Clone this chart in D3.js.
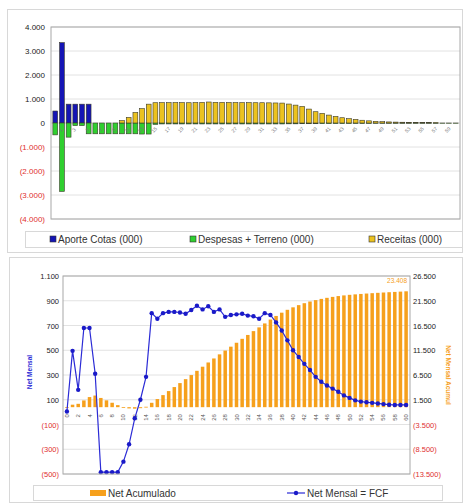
<!DOCTYPE html>
<html lang="pt">
<head>
<meta charset="UTF-8">
<script src="https://d3js.org/d3.v7.min.js"></script>
<style>
  body { margin: 0; background: #fff; }
  svg { font-family: "Liberation Sans", Arial, sans-serif; display: block; }
</style>
</head>
<body>
<script>
// ---- data (000) ----
const periods = [0,1,2,3,4,5,6,7,8,9,10,11,12,13,14,15,16,17,18,19,20,21,22,23,24,25,26,27,28,29,30,
  31,32,33,34,35,36,37,38,39,40,41,42,43,44,45,46,47,48,49,50,51,52,53,54,55,56,57,58,59,60];

const aporteCotas = [500,3350,785,785,785,785,0,0,0,0,0,0,0,0,0,0,0,0,0,0,0,0,0,0,0,0,0,0,0,0,0,
  0,0,0,0,0,0,0,0,0,0,0,0,0,0,0,0,0,0,0,0,0,0,0,0,0,0,0,0,0,0];
const despesasTerreno = [-495,-2850,-590,-110,-110,-450,-450,-450,-450,-450,-450,-450,-450,-460,-460,-60,-40,-40,-40,-40,-40,-40,-40,-40,-40,-40,-40,-40,-40,-40,-40,
  -40,-40,-40,-40,-35,-35,-30,-30,-30,-25,-25,-20,-20,-20,-15,-15,-15,-10,-10,-10,-10,-10,-10,-10,-10,-10,-10,-10,-10,-10];
const receitas = [0,0,0,0,0,0,0,0,0,0,100,235,440,600,785,845,850,850,850,850,845,850,860,875,860,860,855,850,850,850,845,
  845,840,835,830,790,745,690,580,470,400,330,275,220,180,150,115,90,70,55,45,38,32,27,24,20,16,12,0,0,0];

const netMensal = [5,495,180,680,680,310,-485,-485,-485,-485,-400,-260,-50,100,285,800,755,800,810,810,805,795,825,860,830,855,810,830,770,785,790,
  795,780,775,755,800,785,725,660,580,500,445,390,340,285,245,215,190,165,135,115,95,85,80,75,70,65,60,58,58,58];
const netAcumulado = [5,500,680,1360,2040,2350,1865,1380,895,410,10,-250,-300,-200,85,885,1640,2440,3250,4060,4865,5660,6485,7345,8175,9030,9840,10670,11440,12225,13015,
  13810,14590,15365,16120,16920,17705,18430,19090,19670,20170,20615,21005,21345,21630,21875,22090,22280,22445,22580,22695,22790,22875,22955,23030,23100,23165,23225,23285,23345,23408];

const topTicks = [-4000,-3000,-2000,-1000,0,1000,2000,3000,4000];
const leftTicks = [-500,-300,-100,100,300,500,700,900,1100];
const rightTicks = [-13500,-8500,-3500,1500,6500,11500,16500,21500,26500];

const width = 465, height = 504;
const svg = d3.select('body').append('svg').attr('width', width).attr('height', height);

const fmt = v => {
  const s = d3.format(',')(Math.abs(v)).replace(/,/g, '.');
  return v < 0 ? '(' + s + ')' : s;
};

// ================= TOP CHART =================
svg.append('rect').attr('x', 7.5).attr('y', 9.5).attr('width', 455).attr('height', 243)
  .attr('fill', 'none').attr('stroke', '#d8d8d8');

const t = {left: 51, right: 460, top: 27, bottom: 219};
const x1 = d3.scaleBand().domain(periods).range([t.left, t.right]).padding(0.28);
const y1 = d3.scaleLinear().domain([-4000, 4000]).range([t.bottom, t.top]);

svg.append('g').selectAll('line').data(topTicks).join('line')
  .attr('x1', t.left).attr('x2', t.right)
  .attr('y1', d => y1(d)).attr('y2', d => y1(d))
  .attr('stroke', '#e2e2e2');

svg.append('g').selectAll('text').data(topTicks).join('text')
  .attr('x', 45).attr('y', d => y1(d) + 3)
  .attr('text-anchor', 'end').attr('font-size', 8)
  .attr('fill', d => d < 0 ? '#e03030' : '#222')
  .text(fmt);

const rows = periods.map((p, i) => ({p, aporte: aporteCotas[i], despesas: despesasTerreno[i], receitas: receitas[i]}));
const keys = ['aporte', 'despesas', 'receitas'];
const colors = {aporte: '#1515b5', despesas: '#2fcf2f', receitas: '#ebc21f'};
const stacked = d3.stack().keys(keys).offset(d3.stackOffsetDiverging)(rows);

svg.append('g').selectAll('g').data(stacked).join('g')
  .attr('fill', d => colors[d.key])
  .selectAll('rect').data(d => d).join('rect')
  .attr('x', d => x1(d.data.p))
  .attr('width', x1.bandwidth())
  .attr('y', d => y1(Math.max(d[0], d[1])))
  .attr('height', d => Math.abs(y1(d[0]) - y1(d[1])))
  .attr('stroke', '#3a3a2a').attr('stroke-width', 0.6);

// category labels along zero
svg.append('g').selectAll('text').data(periods.filter(p => p % 2 === 1)).join('text')
  .attr('transform', d => `translate(${x1(d) + x1.bandwidth() / 2},${y1(0) + 8}) rotate(-45)`)
  .attr('text-anchor', 'middle').attr('font-size', 5).attr('fill', '#777')
  .text(d => d);

svg.append('rect').attr('x', t.left).attr('y', t.top)
  .attr('width', t.right - t.left).attr('height', t.bottom - t.top)
  .attr('fill', 'none').attr('stroke', '#a8a8a8');

// legend
svg.append('rect').attr('x', 25.5).attr('y', 231.5).attr('width', 437).attr('height', 16)
  .attr('fill', '#fff').attr('stroke', '#d8d8d8');
const legTop = [
  {label: 'Aporte Cotas (000)', key: 'aporte', x: 50},
  {label: 'Despesas + Terreno (000)', key: 'despesas', x: 190},
  {label: 'Receitas (000)', key: 'receitas', x: 369}
];
const lt = svg.append('g').selectAll('g').data(legTop).join('g')
  .attr('transform', d => `translate(${d.x},236)`);
lt.append('rect').attr('width', 6).attr('height', 6)
  .attr('fill', d => colors[d.key]).attr('stroke', '#333').attr('stroke-width', 0.6);
lt.append('text').attr('x', 8).attr('y', 7).attr('font-size', 10).attr('fill', '#333')
  .text(d => d.label);

// ================= BOTTOM CHART =================
svg.append('rect').attr('x', 9.5).attr('y', 257.5).attr('width', 453).attr('height', 245)
  .attr('fill', 'none').attr('stroke', '#d8d8d8');

const b = {left: 63, right: 410, top: 276, bottom: 474};
const x2 = d3.scaleBand().domain(periods).range([b.left, b.right]).padding(0.38);
const yL = d3.scaleLinear().domain([-500, 1100]).range([b.bottom, b.top]);
const yR = d3.scaleLinear().domain([-13500, 26500]).range([b.bottom, b.top]);

svg.append('g').selectAll('line').data(leftTicks).join('line')
  .attr('x1', b.left).attr('x2', b.right)
  .attr('y1', d => yL(d)).attr('y2', d => yL(d))
  .attr('stroke', '#e2e2e2');

svg.append('g').selectAll('text').data(leftTicks).join('text')
  .attr('x', 59).attr('y', d => yL(d) + 3)
  .attr('text-anchor', 'end').attr('font-size', 7.5)
  .attr('fill', d => d < 0 ? '#e03030' : '#222')
  .text(fmt);

svg.append('g').selectAll('text').data(rightTicks).join('text')
  .attr('x', 413).attr('y', d => yR(d) + 3)
  .attr('text-anchor', 'start').attr('font-size', 7.5)
  .attr('fill', d => d < 0 ? '#e03030' : '#222')
  .text(fmt);

svg.append('g').selectAll('rect').data(periods).join('rect')
  .attr('x', d => x2(d))
  .attr('width', x2.bandwidth())
  .attr('y', (d, i) => Math.min(yR(0), yR(netAcumulado[i])))
  .attr('height', (d, i) => Math.max(0.8, Math.abs(yR(netAcumulado[i]) - yR(0))))
  .attr('fill', '#f6a01c');

svg.append('text').attr('x', 407).attr('y', 283).attr('text-anchor', 'end')
  .attr('font-size', 6.5).attr('fill', '#f6a01c')
  .text(fmt(netAcumulado[netAcumulado.length - 1]));

svg.append('g').selectAll('text').data(periods.filter(p => p % 2 === 0)).join('text')
  .attr('transform', d => `translate(${x2(d) + x2.bandwidth() / 2 + 2},${yL(0) + 2}) rotate(-90)`)
  .attr('text-anchor', 'end').attr('font-size', 6).attr('fill', '#555')
  .text(d => d);

const cx = d => x2(d) + x2.bandwidth() / 2;
const line = d3.line().x(d => cx(d)).y((d, i) => yL(netMensal[i]));
svg.append('path').datum(periods).attr('d', line)
  .attr('fill', 'none').attr('stroke', '#2b2bd6').attr('stroke-width', 1.2);
svg.append('g').selectAll('circle').data(periods).join('circle')
  .attr('cx', cx).attr('cy', (d, i) => yL(netMensal[i])).attr('r', 2.2)
  .attr('fill', '#1a1ac8');

svg.append('rect').attr('x', b.left).attr('y', b.top)
  .attr('width', b.right - b.left).attr('height', b.bottom - b.top)
  .attr('fill', 'none').attr('stroke', '#a8a8a8');

svg.append('text').attr('transform', 'translate(32,372) rotate(-90)')
  .attr('text-anchor', 'middle').attr('font-size', 6.5).attr('font-weight', 'bold')
  .attr('fill', '#2b2bd6').text('Net Mensal');
svg.append('text').attr('transform', 'translate(446,375) rotate(90)')
  .attr('text-anchor', 'middle').attr('font-size', 6.5).attr('font-weight', 'bold')
  .attr('fill', '#f6a01c').text('Net Mensal Acumul');

// legend
svg.append('rect').attr('x', 33.5).attr('y', 485.5).attr('width', 409).attr('height', 15)
  .attr('fill', '#fff').attr('stroke', '#d8d8d8');
svg.append('rect').attr('x', 90).attr('y', 490).attr('width', 16).attr('height', 6).attr('fill', '#f6a01c');
svg.append('text').attr('x', 108).attr('y', 497).attr('font-size', 10).attr('fill', '#333').text('Net Acumulado');
svg.append('line').attr('x1', 287).attr('x2', 305).attr('y1', 493).attr('y2', 493)
  .attr('stroke', '#2b2bd6').attr('stroke-width', 1.2);
svg.append('circle').attr('cx', 296).attr('cy', 493).attr('r', 2.2).attr('fill', '#1a1ac8');
svg.append('text').attr('x', 307).attr('y', 497).attr('font-size', 10).attr('fill', '#333').text('Net Mensal = FCF');
</script>
</body>
</html>
